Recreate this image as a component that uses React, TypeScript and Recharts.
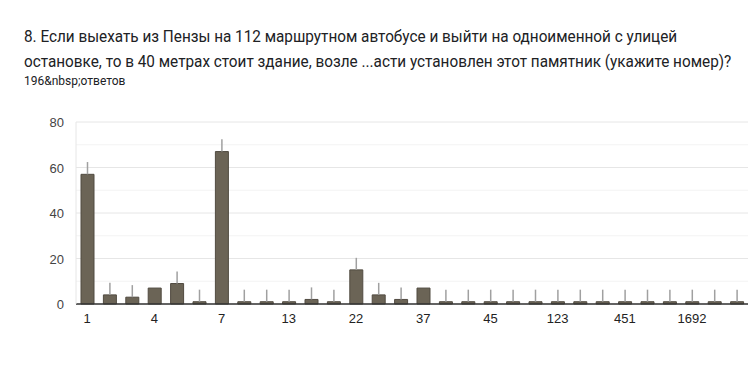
import React from 'react';
import {
  BarChart,
  Bar,
  XAxis,
  YAxis,
  CartesianGrid,
  ErrorBar,
} from 'recharts';

// answer options (only every 3rd label is shown in the chart)
const categories = [
  '1', '2', '3', '4', '5', '6', '7', '8', '10', '13',
  '14', '20', '22', '25', '30', '37', '40', '42', '45', '50',
  '100', '123', '200', '300', '451', '500', '1000', '1692', '2000', '3000',
];
const counts = [
  57, 4, 3, 7, 9, 1, 67, 1, 1, 1,
  2, 1, 15, 4, 2, 7, 1, 1, 1, 1,
  1, 1, 1, 1, 1, 1, 1, 1, 1, 1,
];
const upperErr = [
  5.4, 5.3, 5.3, 0, 5.3, 5.3, 5.4, 5.3, 5.3, 5.3,
  5.3, 5.3, 5.3, 5.3, 5.3, 0, 5.3, 5.3, 5.3, 5.3,
  5.3, 5.3, 5.3, 5.3, 5.3, 5.3, 5.3, 5.3, 5.3, 5.3,
];
// gridlines every 10, labels every 20
const yTicks = [0, 10, 20, 30, 40, 50, 60, 70, 80];

const data = categories.map((c, i) => ({
  name: c,
  value: counts[i],
  err: [0, upperErr[i]],
}));

const labelFont = '"Liberation Sans", Arial, sans-serif';

const YTick = (props: any) => {
  const { x, y, payload } = props;
  if (payload.value % 20 !== 0) return <g />;
  return (
    <text x={x} y={y} dy={5} textAnchor="end" fill="#444" fontSize={13} fontFamily={labelFont}>
      {payload.value}
    </text>
  );
};

const GridLine = (props: any) => {
  const { x1, x2, y1, y2, index } = props;
  return (
    <line
      x1={x1}
      x2={x2}
      y1={y1}
      y2={y2}
      stroke={index % 2 === 0 ? '#e6e6e6' : '#f3f3f3'}
      strokeWidth={1}
    />
  );
};

const App = () => {
  return (
    <div
      style={{
        position: 'absolute',
        left: 0,
        top: 0,
        width: 750,
        height: 381,
        background: '#fff',
        fontFamily: 'Roboto, "Noto Sans", sans-serif',
      }}
    >
      <div
        style={{
          position: 'absolute',
          left: 24,
          top: 24,
          fontSize: 17,
          lineHeight: '25px',
          color: '#202124',
          whiteSpace: 'nowrap',
          transform: 'scaleX(0.9)',
          transformOrigin: 'left top',
        }}
      >
        <div>8. Если выехать из Пензы на 112 маршрутном автобусе и выйти на одноименной с улицей</div>
        <div>остановке, то в 40 метрах стоит здание, возле ...асти установлен этот памятник (укажите номер)?</div>
      </div>
      <div
        style={{
          position: 'absolute',
          left: 24,
          top: 74,
          fontSize: 12,
          color: '#202124',
        }}
      >
        196&amp;nbsp;ответов
      </div>
      <div style={{ position: 'absolute', left: 0, top: 110 }}>
        <BarChart
          width={750}
          height={240}
          data={data}
          margin={{ top: 12, right: 2, left: 20, bottom: 16 }}
          barSize={13}
        >
          <CartesianGrid vertical={false} horizontal={(p: any) => <GridLine {...p} />} />
          <XAxis
            dataKey="name"
            interval={2}
            tickLine={false}
            tickSize={0}
            tickMargin={10}
            axisLine={{ stroke: '#333', strokeWidth: 1.5 }}
            tick={{ fill: '#222', fontSize: 13, fontFamily: labelFont }}
            height={30}
          />
          <YAxis
            domain={[0, 80]}
            ticks={yTicks}
            interval={0}
            tickLine={false}
            tickSize={0}
            tickMargin={12}
            axisLine={{ stroke: '#e6e6e6' }}
            tick={<YTick />}
            width={56}
          />
          <Bar
            dataKey="value"
            fill="#6b6456"
            stroke="#514b41"
            strokeWidth={1}
            isAnimationActive={false}
          >
            <ErrorBar dataKey="err" width={0} stroke="#a0a0a0" strokeWidth={1.5} direction="y" />
          </Bar>
        </BarChart>
      </div>
    </div>
  );
};

export default App;
